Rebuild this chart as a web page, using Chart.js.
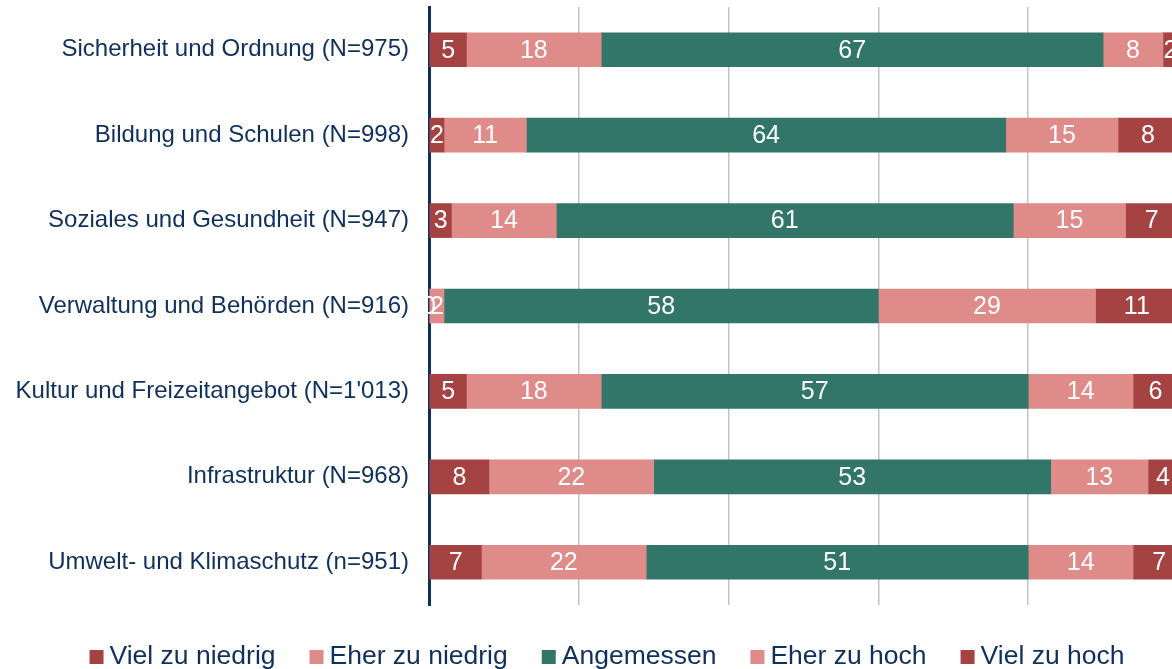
<!DOCTYPE html>
<html lang="de">
<head>
    <meta charset="UTF-8">
    <title>Ausgaben nach Bereich</title>
    <script src="https://cdn.jsdelivr.net/npm/chart.js"></script>
    <style>
        html, body { margin: 0; padding: 0; overflow: hidden; background: #fff; }
        .chart-container { position: absolute; left: 0; top: 0; width: 1214px; height: 669px; }
    </style>
</head>
<body>
    <div class="chart-container">
        <canvas id="ausgabenChart"></canvas>
    </div>

    <script>
        // Kategorien (y-Achse)
        const categories = [
            'Sicherheit und Ordnung (N=975)',
            'Bildung und Schulen (N=998)',
            'Soziales und Gesundheit (N=947)',
            'Verwaltung und Behörden (N=916)',
            "Kultur und Freizeitangebot (N=1'013)",
            'Infrastruktur (N=968)',
            'Umwelt- und Klimaschutz (n=951)'
        ];

        // Anteile in Prozent
        const vielZuNiedrig  = [5, 2, 3, 0, 5, 8, 7];
        const eherZuNiedrig  = [18, 11, 14, 2, 18, 22, 22];
        const angemessen     = [67, 64, 61, 58, 57, 53, 51];
        const eherZuHoch     = [8, 15, 15, 29, 14, 13, 14];
        const vielZuHoch     = [2, 8, 7, 11, 6, 4, 7];

        const xTicks = [0, 20, 40, 60, 80, 100];

        const navy = '#0f2f5c';
        const darkRed = '#a54343';
        const pink = '#de8b8a';
        const green = '#32766a';

        // Werte in die Balken schreiben
        const barLabels = {
            id: 'barLabels',
            afterDatasetsDraw(chart) {
                const ctx = chart.ctx;
                ctx.save();
                ctx.font = '25px Arial, "Liberation Sans", sans-serif';
                ctx.fillStyle = '#ffffff';
                ctx.textAlign = 'center';
                ctx.textBaseline = 'middle';
                chart.data.datasets.forEach((ds, i) => {
                    const meta = chart.getDatasetMeta(i);
                    meta.data.forEach((bar, j) => {
                        const x = (bar.x + bar.base) / 2;
                        ctx.fillText(String(ds.data[j]), x, bar.y + 1);
                    });
                });
                ctx.restore();
            }
        };

        // Legende unten, eigene Abstände
        const bottomLegend = {
            id: 'bottomLegend',
            afterDraw(chart) {
                const ctx = chart.ctx;
                ctx.save();
                ctx.font = '26.5px Arial, "Liberation Sans", sans-serif';
                ctx.textBaseline = 'middle';
                ctx.textAlign = 'left';
                const box = 14, gap = 6, itemGap = 34;
                const items = chart.data.datasets.map(ds => ({
                    label: ds.label,
                    color: ds.backgroundColor,
                    w: box + gap + ctx.measureText(ds.label).width
                }));
                const total = items.reduce((s, it) => s + it.w, 0) + itemGap * (items.length - 1);
                let x = 607 - total / 2;
                const y = 657;
                items.forEach(it => {
                    ctx.fillStyle = it.color;
                    ctx.fillRect(x, y - 7, box, box);
                    ctx.fillStyle = navy;
                    ctx.fillText(it.label, x + box + gap, y);
                    x += it.w + itemGap;
                });
                ctx.restore();
            }
        };

        const ctxBar = document.getElementById('ausgabenChart').getContext('2d');
        new Chart(ctxBar, {
            type: 'bar',
            data: {
                labels: categories,
                datasets: [
                    { label: 'Viel zu niedrig', data: vielZuNiedrig, backgroundColor: darkRed },
                    { label: 'Eher zu niedrig', data: eherZuNiedrig, backgroundColor: pink },
                    { label: 'Angemessen', data: angemessen, backgroundColor: green },
                    { label: 'Eher zu hoch', data: eherZuHoch, backgroundColor: pink },
                    { label: 'Viel zu hoch', data: vielZuHoch, backgroundColor: darkRed }
                ]
            },
            options: {
                indexAxis: 'y',
                responsive: true,
                maintainAspectRatio: false,
                animation: false,
                barThickness: 34,
                layout: { padding: { top: 7, right: 36, bottom: 64, left: 0 } },
                plugins: {
                    legend: { display: false },
                    tooltip: { enabled: false }
                },
                scales: {
                    x: {
                        stacked: true,
                        min: 0,
                        max: 100,
                        afterBuildTicks: scale => { scale.ticks = xTicks.map(v => ({ value: v })); },
                        ticks: { display: false },
                        grid: { color: '#c3c3c6', lineWidth: 1.5, drawTicks: false },
                        border: { display: false }
                    },
                    y: {
                        stacked: true,
                        afterFit: scale => {
                            scale.width = 429;
                            scale.paddingTop = 0;
                            scale.paddingBottom = 0;
                        },
                        ticks: {
                            color: navy,
                            padding: 20,
                            font: { size: 24, family: 'Arial, "Liberation Sans", sans-serif' }
                        },
                        grid: { display: false, drawTicks: false },
                        border: { display: true, color: navy, width: 3 }
                    }
                }
            },
            plugins: [barLabels, bottomLegend]
        });
    </script>
</body>
</html>
